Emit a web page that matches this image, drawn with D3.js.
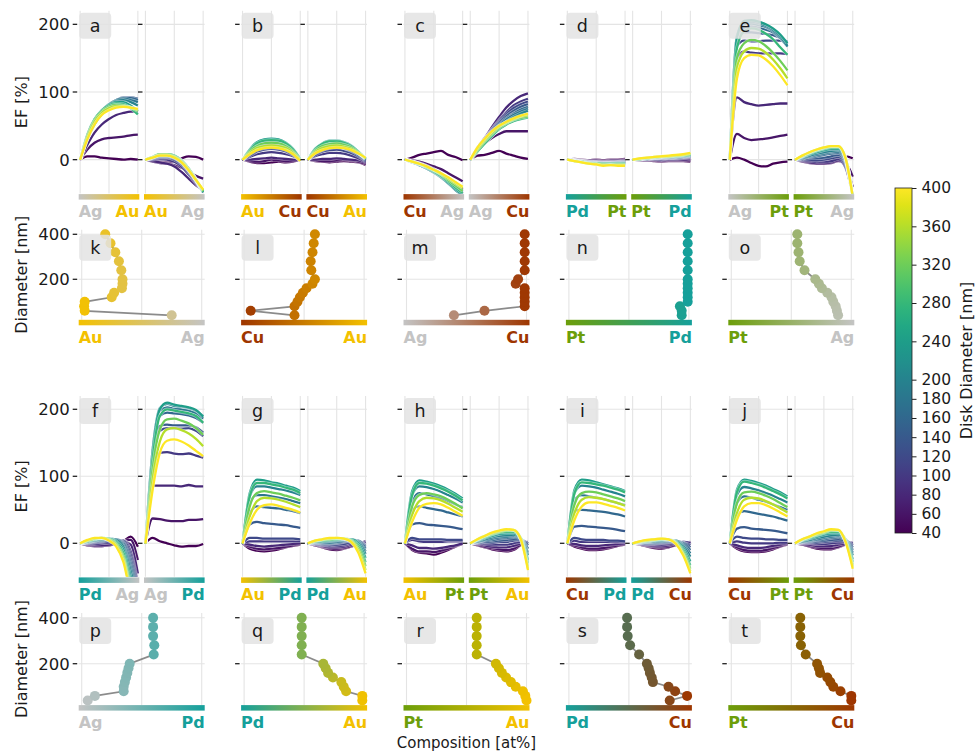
<!DOCTYPE html>
<html>
<head>
<meta charset="utf-8">
<script src="https://cdn.jsdelivr.net/npm/d3@7"></script>
<style>
  body { margin: 0; background: #fff; }
  svg { font-family: "DejaVu Sans", sans-serif; }
</style>
</head>
<body>
<svg id="chart" width="976" height="753"></svg>
<script>
// Disk diameters (nm), one EF curve / one composition point per diameter
const diameters = [40, 60, 80, 100, 120, 140, 160, 180, 200, 240, 280, 320, 360, 400];
// Composition grid (fraction of the second element) for the EF curves
const compGrid = [0, 0.125, 0.25, 0.375, 0.5, 0.625, 0.75, 0.875, 1];
const efTicks = [0, 100, 200];
const diamTicks = [200, 400];
const colorbarTicks = [40, 60, 80, 100, 120, 140, 160, 180, 200, 240, 280, 320, 360, 400];

const elementColors = { Ag: "#c4c4c4", Au: "#f3c100", Cu: "#9e3600", Pd: "#15a09b", Pt: "#6c9e0a" };

// ---- EF [%] curves, rows = diameters, columns = compGrid ----
const efA_L = [
  [0,5,5,3,2,1,0,1,0],[0,15,25,30,32,33,34,36,37],[0,22,40,52,60,66,69,71,71],
  [0,30,52,67,77,84,88,89,88],[0,32,55,70,80,87,91,91,90],[0,33,56,71,81,88,92,92,90],
  [0,34,57,72,82,88,91,91,88],[0,35,58,72,82,88,90,88,85],[0,36,59,73,82,87,88,85,80],
  [0,37,60,73,81,85,85,80,72],[0,37,60,73,80,83,82,76,67],[0,35,58,71,78,81,80,77,72],
  [0,33,56,69,76,79,79,77,74],[0,30,52,66,73,77,78,77,75]];
const efA_R = [
  [0,-2,-3,-4,-2,2,5,4,0],[0,-3,-5,-6,-8,-12,-18,-24,-28],[0,-2,-4,-6,-10,-18,-28,-38,-45],
  [0,0,1,0,-3,-10,-22,-35,-48],[0,1,3,3,0,-7,-19,-33,-48],[0,2,4,4,2,-5,-17,-32,-48],
  [0,2,5,5,3,-4,-16,-31,-48],[0,3,6,6,4,-3,-15,-30,-48],[0,3,7,7,5,-2,-14,-30,-48],
  [0,4,8,8,6,-1,-13,-29,-48],[0,4,8,8,6,-1,-13,-29,-47],[0,4,8,8,5,-2,-14,-29,-46],
  [0,3,7,7,4,-3,-15,-30,-45],[0,3,6,6,3,-4,-16,-30,-44]];
const efB_L = [
  [0,-3,-5,-5,-4,-3,-4,-3,0],[0,-2,-3,-2,0,-1,-2,-2,0],[0,0,1,2,3,2,1,0,0],
  [0,4,8,10,11,10,8,5,0],[0,6,12,15,16,15,12,7,0],[0,9,16,20,21,20,16,10,0],
  [0,11,19,23,24,23,19,12,1],[0,13,22,26,27,26,22,14,1],[0,14,24,28,29,28,24,15,1],
  [0,15,26,30,31,30,25,16,1],[0,14,24,28,29,28,24,15,0],[0,12,20,24,25,24,20,12,0],
  [0,10,17,20,21,20,17,10,-1],[0,8,14,17,18,17,14,8,-2]];
const efB_R = [
  [0,-2,-3,-4,-3,-2,-3,-4,-8],[0,-1,-2,-2,-1,0,-1,-3,-6],[0,0,1,1,2,1,0,-1,-4],
  [0,5,8,10,10,9,6,2,-3],[0,7,12,14,15,13,10,5,-2],[0,10,16,19,19,17,13,7,-1],
  [0,12,19,22,22,20,16,9,0],[0,14,22,25,25,23,18,10,1],[0,15,23,27,27,25,20,11,1],
  [0,16,24,28,28,26,21,12,2],[0,15,23,27,27,25,20,12,2],[0,13,20,23,24,22,18,11,2],
  [0,11,17,20,21,19,16,10,2],[0,9,14,17,18,17,14,9,3]];
const efC_L = [
  [0,3,7,9,11,13,7,4,-1],[0,-1,-3,-6,-10,-14,-20,-26,-32],[0,-2,-5,-9,-14,-20,-28,-36,-44],
  [0,-3,-6,-10,-16,-22,-30,-39,-47],[0,-3,-7,-11,-17,-23,-32,-41,-50],[0,-4,-7,-12,-18,-25,-34,-43,-52],
  [0,-4,-8,-12,-18,-25,-34,-44,-53],[0,-4,-8,-13,-19,-26,-35,-44,-53],[0,-4,-8,-13,-19,-26,-35,-45,-54],
  [0,-4,-7,-12,-18,-25,-34,-43,-52],[0,-3,-7,-11,-17,-24,-32,-41,-49],[0,-3,-6,-11,-16,-22,-30,-38,-46],
  [0,-3,-6,-10,-15,-21,-28,-35,-42],[0,-3,-6,-10,-15,-20,-26,-33,-40]];
const efC_R = [
  [0,6,7,10,13,9,6,3,1],[0,14,24,32,38,42,42,42,42],[0,18,32,48,63,77,87,94,98],
  [0,17,30,45,58,70,80,86,90],[0,17,30,44,56,67,76,82,86],[0,16,29,42,54,64,72,78,82],
  [0,15,28,40,52,61,68,74,78],[0,15,27,39,50,59,66,71,75],[0,14,26,38,48,56,63,68,72],
  [0,12,24,35,45,52,58,62,64],[0,12,24,35,45,52,57,60,62],[0,14,27,38,47,54,59,62,64],
  [0,16,29,40,49,55,60,64,66],[0,18,31,42,50,56,61,65,68]];
const efD_L = [
  [0,1,0,-1,0,-1,0,0,1],[0,0,-1,-2,-1,-2,-1,-1,0],[0,0,-1,-2,-2,-3,-2,-2,-1],
  [0,-1,-2,-3,-3,-4,-3,-3,-2],[0,-1,-2,-3,-4,-4,-4,-4,-3],[0,-1,-2,-3,-4,-5,-4,-4,-3],
  [0,-1,-2,-4,-4,-5,-5,-4,-4],[0,-1,-3,-4,-5,-5,-5,-5,-4],[0,-1,-3,-4,-5,-6,-5,-5,-5],
  [0,-2,-3,-5,-5,-6,-6,-6,-5],[0,-2,-3,-5,-6,-6,-6,-6,-6],[0,-2,-4,-5,-6,-7,-7,-7,-7],
  [0,-2,-4,-6,-7,-8,-8,-8,-8],[0,-2,-4,-6,-7,-9,-8,-9,-9]];
const efD_R = [
  [0,-1,-1,-2,-3,-2,-2,-2,-3],[0,-1,-1,-1,-2,-1,-1,-1,-1],[0,0,0,0,-1,0,0,0,1],
  [0,0,1,1,0,1,1,2,3],[0,0,1,1,1,2,2,3,4],[0,1,1,2,3,2,3,4,5],
  [0,1,1,2,3,3,3,4,5],[0,1,2,2,3,3,4,5,6],[0,1,2,3,3,4,4,5,6],
  [0,1,2,3,4,4,5,6,7],[0,1,2,3,4,5,5,6,7],[0,1,2,3,4,5,6,7,8],
  [0,2,3,4,5,5,6,7,9],[0,2,3,4,5,6,7,8,10]];
const efE_L = [
  [0,3,0,-5,-9,-10,-6,-4,-3],[0,38,32,29,30,31,33,35,37],[0,92,85,82,80,81,82,83,83],
  [0,150,160,158,157,157,157,157,156],[0,168,176,175,175,176,176,176,175],[0,178,188,188,187,186,184,180,174],
  [0,182,195,197,195,192,188,180,170],[0,183,200,201,199,196,190,180,167],[0,183,203,204,202,198,192,182,168],
  [0,180,205,206,204,200,194,185,172],[0,165,190,194,192,186,178,166,155],[0,150,172,177,175,168,158,146,132],
  [0,135,160,165,164,158,148,135,120],[0,120,150,155,154,148,138,125,110]];
const efE_R = [
  [0,-2,-3,-4,-4,-2,2,5,2],[0,-3,-5,-6,-6,-5,-2,-5,-25],[0,-2,-4,-5,-5,-4,-1,-10,-40],
  [0,-1,-2,-3,-3,-2,1,-12,-50],[0,0,0,-1,0,2,4,-10,-55],[0,1,2,2,3,5,7,-6,-55],
  [0,2,4,5,7,9,10,-3,-55],[0,2,5,7,9,11,12,-2,-55],[0,3,6,9,11,13,14,0,-55],
  [0,4,8,11,14,16,16,2,-55],[0,5,9,13,16,18,18,3,-55],[0,5,10,14,17,19,19,3,-55],
  [0,6,11,15,18,20,20,3,-55],[0,6,11,15,18,20,20,2,-55]];
const efF_L = [
  [0,-3,-4,-4,-3,-1,3,10,-5],[0,-3,-4,-4,-3,-1,3,5,-25],[0,-2,-3,-3,-2,0,3,-2,-45],
  [0,-1,-1,0,1,3,4,-12,-60],[0,0,1,2,3,5,4,-18,-65],[0,1,2,3,5,6,2,-24,-70],
  [0,1,3,4,6,6,0,-30,-75],[0,2,4,5,7,6,-3,-36,-80],[0,2,4,6,7,5,-6,-42,-85],
  [0,3,5,7,7,3,-10,-50,-90],[0,3,6,8,7,1,-15,-58,-95],[0,4,7,8,6,-1,-20,-65,-100],
  [0,4,7,8,5,-3,-24,-70,-100],[0,5,8,8,4,-5,-28,-75,-100]];
const efF_R = [
  [0,8,3,0,-3,-5,-4,-4,-1],[0,37,36,34,33,33,35,35,36],[0,86,86,86,86,85,87,85,85],
  [0,110,135,136,134,133,134,131,128],[0,125,168,172,172,171,172,168,160],[0,130,175,177,176,176,176,173,165],
  [0,135,190,195,194,193,191,187,180],[0,140,198,203,201,200,198,194,186],[0,140,202,208,205,204,202,198,190],
  [0,135,200,210,207,205,203,199,189],[0,125,190,200,198,196,194,190,180],[0,110,170,185,186,183,179,172,162],
  [0,95,152,170,172,169,164,156,145],[0,80,135,153,155,152,146,138,130]];
const efG_L = [
  [0,-8,-11,-12,-11,-9,-6,-4,-2],[0,-5,-8,-9,-8,-7,-5,-3,-1],[0,-2,-4,-5,-4,-3,-2,-1,0],
  [0,3,3,3,3,3,3,3,3],[0,8,8,7,7,7,7,7,6],[0,28,32,30,29,28,27,25,23],
  [0,45,55,54,53,52,50,48,45],[0,60,72,72,70,68,66,63,60],[0,70,85,85,83,81,79,76,72],
  [0,75,95,94,91,89,86,83,78],[0,70,90,90,88,86,83,80,75],[0,55,75,78,76,74,71,68,64],
  [0,40,63,68,67,65,62,58,54],[0,30,50,57,58,56,53,50,46]];
const efG_R = [
  [0,-3,-6,-9,-10,-8,-5,-2,0],[0,-3,-5,-7,-8,-7,-4,-1,2],[0,-2,-4,-6,-6,-5,-2,0,3],
  [0,-1,-3,-4,-4,-3,0,2,0],[0,-1,-2,-3,-2,-1,2,3,-3],[0,0,-1,-1,0,2,4,4,-5],
  [0,1,0,0,1,3,5,4,-8],[0,1,1,1,2,4,6,3,-12],[0,2,2,3,4,5,6,2,-16],
  [0,2,3,4,5,6,6,0,-22],[0,3,4,5,6,7,5,-3,-28],[0,3,5,6,7,7,4,-6,-34],
  [0,4,6,7,8,7,3,-10,-40],[0,4,6,8,8,7,2,-14,-45]];
const efH_L = [
  [0,-10,-14,-15,-17,-14,-10,-5,-1],[0,-8,-12,-12,-13,-11,-8,-4,-1],[0,-3,-7,-7,-8,-7,-5,-3,0],
  [0,5,3,2,2,2,3,3,3],[0,8,6,6,6,6,5,5,5],[0,28,30,28,27,26,25,23,21],
  [0,50,55,53,51,49,46,43,40],[0,62,75,73,70,67,63,58,54],[0,72,85,84,81,77,72,67,61],
  [0,78,94,92,89,85,80,74,67],[0,72,90,89,86,82,77,71,64],[0,55,72,75,73,70,65,59,52],
  [0,42,63,68,67,64,59,53,47],[0,32,53,59,60,58,53,47,41]];
const efH_R = [
  [0,-3,-6,-9,-11,-12,-10,-3,0],[0,-2,-5,-7,-9,-10,-8,-2,1],[0,-1,-3,-5,-6,-6,-4,0,2],
  [0,0,-1,-2,-2,-2,0,2,0],[0,1,1,1,2,2,4,5,0],[0,1,2,3,4,5,6,6,-3],
  [0,2,4,5,7,8,9,7,-8],[0,2,5,7,9,10,11,8,-14],[0,3,6,9,11,12,13,8,-18],
  [0,4,8,11,14,15,15,8,-25],[0,5,9,13,16,17,17,8,-30],[0,5,10,14,17,19,19,8,-35],
  [0,6,11,15,18,20,20,7,-38],[0,6,11,16,19,21,20,6,-40]];
const efI_L = [
  [0,-5,-8,-10,-10,-9,-7,-4,-2],[0,-3,-6,-8,-8,-7,-5,-3,-1],[0,-1,-3,-4,-4,-3,-2,-1,0],
  [0,4,2,2,2,2,2,2,2],[0,8,6,5,5,5,4,4,3],[0,25,26,25,24,23,22,20,18],
  [0,48,50,49,48,47,45,43,40],[0,65,72,70,68,66,63,60,57],[0,75,86,85,83,80,77,74,70],
  [0,80,95,94,91,88,85,82,78],[0,75,91,90,88,86,83,80,76],[0,58,75,77,76,73,70,67,63],
  [0,45,65,69,68,66,63,60,56],[0,35,55,61,61,59,56,53,49]];
const efI_R = [
  [0,-2,-5,-7,-8,-6,-3,0,1],[0,-2,-4,-5,-6,-5,-2,0,2],[0,-1,-3,-4,-4,-3,0,2,1],
  [0,-1,-2,-2,-2,-1,1,2,0],[0,0,-1,-1,0,1,2,1,-3],[0,0,0,0,1,2,3,1,-6],
  [0,1,1,1,2,3,4,0,-10],[0,1,2,2,3,4,4,-2,-15],[0,1,2,3,4,5,4,-4,-20],
  [0,2,3,4,5,5,3,-7,-27],[0,2,3,5,6,6,2,-10,-33],[0,2,4,5,6,6,1,-13,-38],
  [0,3,4,6,7,6,0,-16,-42],[0,3,5,6,7,6,-1,-18,-45]];
const efJ_L = [
  [0,-8,-12,-13,-13,-12,-9,-5,-2],[0,-6,-10,-11,-11,-10,-7,-4,-1],[0,-3,-6,-7,-7,-6,-4,-2,0],
  [0,3,1,0,0,0,0,1,1],[0,10,8,7,7,6,6,5,5],[0,22,24,22,21,20,19,17,15],
  [0,42,48,46,44,42,40,37,34],[0,60,70,68,65,62,58,54,50],[0,72,84,82,79,75,71,66,61],
  [0,80,95,93,90,86,81,76,70],[0,76,92,90,87,83,78,73,67],[0,60,76,77,75,71,66,60,54],
  [0,45,65,68,67,63,58,52,46],[0,35,55,60,60,57,52,46,40]];
const efJ_R = [
  [0,-2,-5,-8,-9,-9,-6,-2,0],[0,-2,-4,-6,-7,-7,-5,-1,1],[0,-1,-2,-4,-4,-4,-2,0,1],
  [0,0,0,-1,-1,0,1,2,0],[0,1,1,1,2,3,4,4,-3],[0,1,2,3,4,5,6,5,-6],
  [0,2,3,5,6,8,9,6,-10],[0,2,4,6,8,10,11,6,-14],[0,3,5,8,10,12,13,6,-18],
  [0,4,7,10,13,15,15,6,-24],[0,5,8,12,15,17,17,5,-28],[0,5,9,13,16,19,19,4,-32],
  [0,6,10,14,17,20,20,3,-35],[0,6,10,15,18,21,20,2,-38]];

// ---- composition (fraction of second element) per diameter, panels k..t ----
const compK = [0.75,0.025,0.02,0.025,0.25,0.27,0.335,0.34,0.34,0.33,0.31,0.28,0.24,0.196];
const compL = [0.42,0.055,0.42,0.445,0.465,0.49,0.52,0.57,0.59,0.56,0.555,0.57,0.58,0.59];
const compM = [0.395,0.65,0.985,0.985,0.985,0.985,0.985,0.91,0.93,0.985,0.985,0.985,0.985,0.985];
const compN = [0.94,0.94,0.925,0.99,0.99,0.99,0.99,0.99,0.99,0.99,0.99,0.99,0.99,0.99];
const compO = [0.89,0.88,0.87,0.85,0.835,0.80,0.755,0.73,0.70,0.61,0.57,0.56,0.55,0.55];
const compP = [0.05,0.11,0.35,0.35,0.36,0.37,0.38,0.39,0.40,0.60,0.605,0.595,0.595,0.595];
const compQ = [0.985,0.985,0.85,0.83,0.81,0.74,0.70,0.68,0.66,0.48,0.48,0.48,0.48,0.48];
const compR = [1.0,0.99,0.97,0.91,0.87,0.83,0.795,0.77,0.745,0.585,0.585,0.585,0.585,0.585];
const compS = [0.84,0.985,0.885,0.83,0.70,0.69,0.675,0.665,0.65,0.585,0.51,0.49,0.485,0.485];
const compT = [1.0,1.0,0.91,0.85,0.825,0.80,0.74,0.73,0.715,0.62,0.58,0.575,0.575,0.575];

const efPanels = [
  { letter: "a", col: 0, row: 0, left: ["Ag","Au"], right: ["Au","Ag"], L: efA_L, R: efA_R },
  { letter: "b", col: 1, row: 0, left: ["Au","Cu"], right: ["Cu","Au"], L: efB_L, R: efB_R },
  { letter: "c", col: 2, row: 0, left: ["Cu","Ag"], right: ["Ag","Cu"], L: efC_L, R: efC_R },
  { letter: "d", col: 3, row: 0, left: ["Pd","Pt"], right: ["Pt","Pd"], L: efD_L, R: efD_R },
  { letter: "e", col: 4, row: 0, left: ["Ag","Pt"], right: ["Pt","Ag"], L: efE_L, R: efE_R },
  { letter: "f", col: 0, row: 2, left: ["Pd","Ag"], right: ["Ag","Pd"], L: efF_L, R: efF_R },
  { letter: "g", col: 1, row: 2, left: ["Au","Pd"], right: ["Pd","Au"], L: efG_L, R: efG_R },
  { letter: "h", col: 2, row: 2, left: ["Au","Pt"], right: ["Pt","Au"], L: efH_L, R: efH_R },
  { letter: "i", col: 3, row: 2, left: ["Cu","Pd"], right: ["Pd","Cu"], L: efI_L, R: efI_R },
  { letter: "j", col: 4, row: 2, left: ["Cu","Pt"], right: ["Pt","Cu"], L: efJ_L, R: efJ_R }
];
const diamPanels = [
  { letter: "k", col: 0, row: 1, ends: ["Au","Ag"], comp: compK },
  { letter: "l", col: 1, row: 1, ends: ["Cu","Au"], comp: compL },
  { letter: "m", col: 2, row: 1, ends: ["Ag","Cu"], comp: compM },
  { letter: "n", col: 3, row: 1, ends: ["Pt","Pd"], comp: compN },
  { letter: "o", col: 4, row: 1, ends: ["Pt","Ag"], comp: compO },
  { letter: "p", col: 0, row: 3, ends: ["Ag","Pd"], comp: compP },
  { letter: "q", col: 1, row: 3, ends: ["Pd","Au"], comp: compQ },
  { letter: "r", col: 2, row: 3, ends: ["Pt","Au"], comp: compR },
  { letter: "s", col: 3, row: 3, ends: ["Pd","Cu"], comp: compS },
  { letter: "t", col: 4, row: 3, ends: ["Pt","Cu"], comp: compT }
];

// ---- layout ----
const colX0 = 78.7, colStep = 162.4, fullW = 126, subW = 60.6, subGap = 4.7;
const rowBox = [
  { top: 10.8, bottom: 193.5 },  // EF a-e
  { top: 229.8, bottom: 319.8 }, // diameter k-o
  { top: 395.9, bottom: 576.8 }, // EF f-j
  { top: 613.1, bottom: 705.1 }  // diameter p-t
];
const barH = 5.5;
const gridColor = "#e4e4e4";
const tickColor = "#222";
const textColor = "#1a1a1a";

const svg = d3.select("#chart");
const defs = svg.append("defs");
const dColor = d3.scaleSequential(d3.interpolateViridis).domain([40, 400]);

let gradId = 0;
function gradient(a, b) {
  const id = "grad" + (gradId++);
  const g = defs.append("linearGradient").attr("id", id).attr("x1", "0%").attr("x2", "100%");
  g.append("stop").attr("offset", "0%").attr("stop-color", elementColors[a]);
  g.append("stop").attr("offset", "100%").attr("stop-color", elementColors[b]);
  return id;
}
let clipId = 0;
function clip(x, y, w, h) {
  const id = "clip" + (clipId++);
  defs.append("clipPath").attr("id", id).append("rect").attr("x", x).attr("y", y).attr("width", w).attr("height", h);
  return id;
}

function axisFrame(g, x, yScale, ticks, x0, w, top, bottom, showLabels) {
  // grid
  g.selectAll(null).data([0, 0.5, 1]).enter().append("line")
    .attr("x1", d => x(d)).attr("x2", d => x(d)).attr("y1", top).attr("y2", bottom)
    .attr("stroke", gridColor).attr("stroke-width", 1.1);
  g.selectAll(null).data(ticks).enter().append("line")
    .attr("x1", x0).attr("x2", x0 + w).attr("y1", d => yScale(d)).attr("y2", d => yScale(d))
    .attr("stroke", gridColor).attr("stroke-width", 1.1);
  // ticks
  g.selectAll(null).data(ticks).enter().append("line")
    .attr("x1", x0 - 6).attr("x2", x0 - 1.5).attr("y1", d => yScale(d)).attr("y2", d => yScale(d))
    .attr("stroke", tickColor).attr("stroke-width", 1.3);
  if (showLabels) {
    g.selectAll(null).data(ticks).enter().append("text")
      .attr("x", x0 - 9).attr("y", d => yScale(d)).attr("dy", "0.36em")
      .attr("text-anchor", "end").attr("font-size", 16.5).attr("fill", textColor)
      .text(d => d);
  }
}

function compositionBar(g, x0, w, bottom, ends) {
  g.append("rect").attr("x", x0).attr("y", bottom + 0.6).attr("width", w).attr("height", barH)
    .attr("fill", `url(#${gradient(ends[0], ends[1])})`);
  const by = bottom + 0.6 + barH + 17.5;
  g.append("text").attr("x", x0).attr("y", by).attr("font-size", 16).attr("font-weight", "bold")
    .attr("fill", elementColors[ends[0]]).text(ends[0]);
  g.append("text").attr("x", x0 + w).attr("y", by).attr("text-anchor", "end").attr("font-size", 16)
    .attr("font-weight", "bold").attr("fill", elementColors[ends[1]]).text(ends[1]);
}

function letterBox(g, x0, y, letter) {
  g.append("rect").attr("x", x0 + 0.5).attr("y", y).attr("width", 32).attr("height", 26).attr("rx", 4)
    .attr("fill", "#e3e3e3").attr("fill-opacity", 0.85);
  g.append("text").attr("x", x0 + 16.5).attr("y", y + 13).attr("dy", "0.36em")
    .attr("text-anchor", "middle").attr("font-size", 17.5).attr("fill", textColor).text(letter);
}

const efLine = (x, y) => d3.line().x((v, i) => x(compGrid[i])).y(v => y(v)).curve(d3.curveMonotoneX);

function efSub(g, x0, w, rb, data, ends, showLabels) {
  const x = d3.scaleLinear().domain([-0.025, 1.025]).range([x0, x0 + w]);
  const y = d3.scaleLinear().domain([-50, 220]).range([rb.bottom, rb.top]);
  axisFrame(g, x, y, efTicks, x0, w, rb.top, rb.bottom, showLabels);
  const cid = clip(x0, rb.top, w, rb.bottom - rb.top);
  const lg = g.append("g").attr("clip-path", `url(#${cid})`);
  const line = efLine(x, y);
  data.forEach((row, k) => {
    lg.append("path").attr("d", line(row)).attr("fill", "none")
      .attr("stroke", "#fff").attr("stroke-opacity", 0.5).attr("stroke-width", 3.6);
    lg.append("path").attr("d", line(row)).attr("fill", "none")
      .attr("stroke", dColor(diameters[k])).attr("stroke-width", 2.3).attr("stroke-linejoin", "round");
  });
  compositionBar(g, x0, w, rb.bottom, ends);
}

efPanels.forEach(p => {
  const rb = rowBox[p.row];
  const x0 = colX0 + colStep * p.col;
  const g = svg.append("g");
  efSub(g, x0, subW, rb, p.L, p.left, p.col === 0);
  efSub(g, x0 + subW + subGap, subW, rb, p.R, p.right, false);
  letterBox(g, x0, rb.top + 2, p.letter);
});

diamPanels.forEach(p => {
  const rb = rowBox[p.row];
  const x0 = colX0 + colStep * p.col;
  const g = svg.append("g");
  const x = d3.scaleLinear().domain([-0.025, 1.025]).range([x0, x0 + fullW]);
  const y = d3.scaleLinear().domain([20, 420]).range([rb.bottom, rb.top]);
  axisFrame(g, x, y, diamTicks, x0, fullW, rb.top, rb.bottom, p.col === 0);
  const pts = diameters.map((d, i) => ({ d, c: p.comp[i] }));
  const mix = d3.interpolateRgb(elementColors[p.ends[0]], elementColors[p.ends[1]]);
  g.append("path").datum(pts)
    .attr("d", d3.line().x(v => x(v.c)).y(v => y(v.d)))
    .attr("fill", "none").attr("stroke", "#777").attr("stroke-width", 1.8).attr("stroke-opacity", 0.85);
  g.selectAll(null).data(pts).enter().append("circle")
    .attr("cx", v => x(v.c)).attr("cy", v => y(v.d)).attr("r", 5)
    .attr("fill", v => mix(v.c));
  compositionBar(g, x0, fullW, rb.bottom - 0.6, p.ends);
  letterBox(g, x0, rb.top + 5, p.letter);
});

// axis titles
function vTitle(text, cx, cy, size) {
  svg.append("text").attr("transform", `translate(${cx},${cy}) rotate(-90)`)
    .attr("text-anchor", "middle").attr("dy", "0.36em").attr("font-size", size).attr("fill", textColor).text(text);
}
vTitle("EF [%]", 21.5, (rowBox[0].top + rowBox[0].bottom) / 2, 16);
vTitle("Diameter [nm]", 21.5, (rowBox[1].top + rowBox[1].bottom) / 2, 16);
vTitle("EF [%]", 21.5, (rowBox[2].top + rowBox[2].bottom) / 2, 16);
vTitle("Diameter [nm]", 21.5, (rowBox[3].top + rowBox[3].bottom) / 2, 16);
svg.append("text").attr("x", colX0 + (colStep * 4 + fullW) / 2).attr("y", 747.5)
  .attr("text-anchor", "middle").attr("font-size", 15).attr("fill", textColor).text("Composition [at%]");

// colorbar
const cb = { x: 895, w: 17, top: 188, bottom: 533 };
const cbScale = d3.scaleLinear().domain([40, 400]).range([cb.bottom, cb.top]);
const cbGrad = defs.append("linearGradient").attr("id", "cbGrad").attr("x1", "0%").attr("x2", "0%").attr("y1", "100%").attr("y2", "0%");
d3.range(0, 1.0001, 0.05).forEach(t => {
  cbGrad.append("stop").attr("offset", `${t * 100}%`).attr("stop-color", d3.interpolateViridis(t));
});
svg.append("rect").attr("x", cb.x).attr("y", cb.top).attr("width", cb.w).attr("height", cb.bottom - cb.top)
  .attr("fill", "url(#cbGrad)").attr("stroke", "#222").attr("stroke-width", 0.8);
const cbAxis = svg.append("g").attr("transform", `translate(${cb.x + cb.w},0)`)
  .call(d3.axisRight(cbScale).tickValues(colorbarTicks).tickSize(4.5).tickPadding(5).tickFormat(d3.format("d")));
cbAxis.select(".domain").remove();
cbAxis.selectAll("line").attr("stroke", "#222");
cbAxis.selectAll("text").attr("font-size", 15.5).attr("fill", textColor).attr("font-family", "DejaVu Sans, sans-serif");
vTitle("Disk Diameter [nm]", 966, (cb.top + cb.bottom) / 2, 16);
</script>
</body>
</html>
